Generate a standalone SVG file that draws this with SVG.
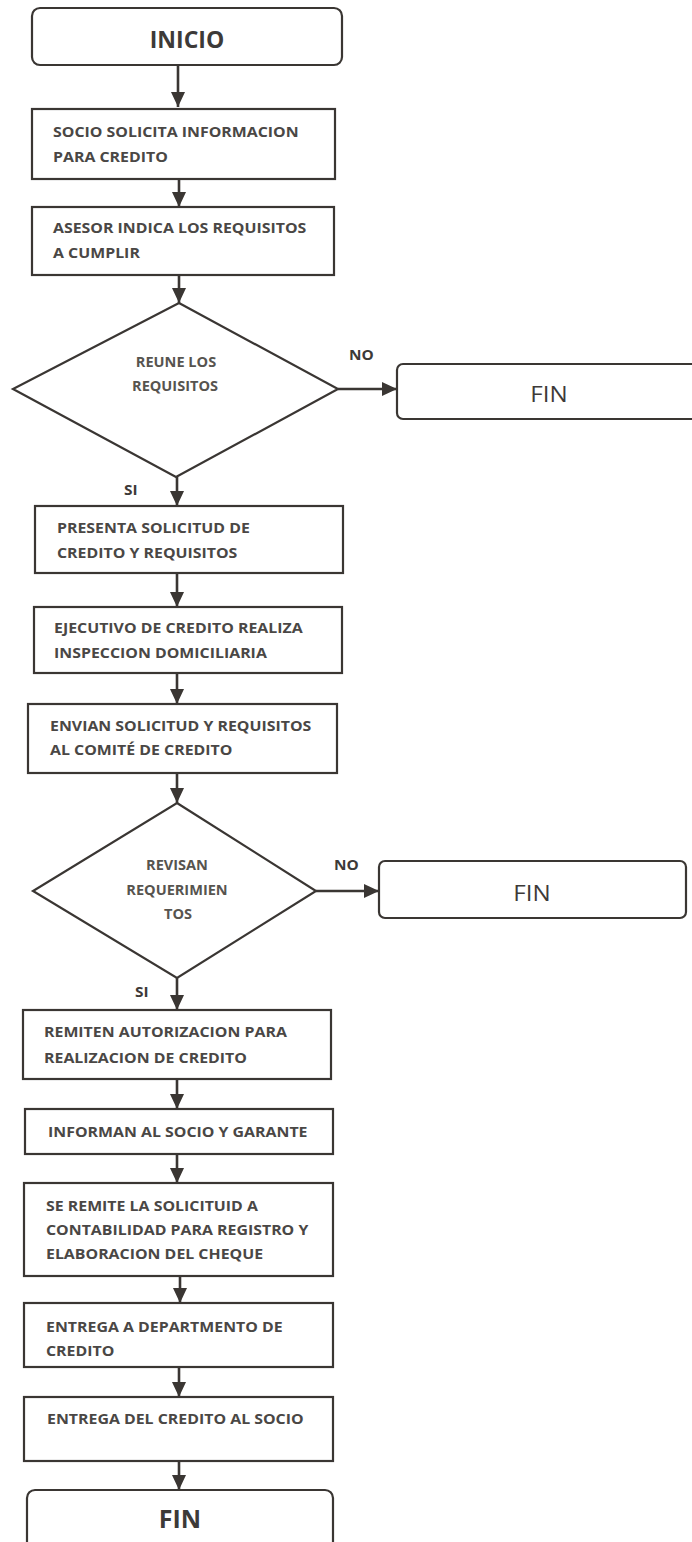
<svg xmlns="http://www.w3.org/2000/svg" width="692" height="1542" viewBox="0 0 692 1542">
  <defs>
    <marker id="arrow" markerUnits="userSpaceOnUse" markerWidth="16" markerHeight="14" viewBox="0 0 16 14" refX="15" refY="7" orient="auto">
      <path d="M0,0 L15,7 L0,14 Z" fill="#3a3633"/>
    </marker>
    <style>
      .box { fill: #ffffff; stroke: #3a3633; stroke-width: 2.2; }
      .dia { fill: #ffffff; stroke: #3a3633; stroke-width: 2.2; stroke-linejoin: miter; }
      .flow { stroke: #3a3633; stroke-width: 2.6; fill: none; marker-end: url(#arrow); }
      .t { font-family: "Open Sans", "Liberation Sans", sans-serif; font-weight: 700; font-size: 15px; fill: #4a4745; }
      .tc { font-family: "Open Sans", "Liberation Sans", sans-serif; font-weight: 700; font-size: 14px; fill: #57544f; text-anchor: middle; }
      .lbl { font-family: "Open Sans", "Liberation Sans", sans-serif; font-weight: 700; font-size: 14px; fill: #3d3a38; }
      .big { font-family: "Open Sans", "Liberation Sans", sans-serif; font-weight: 700; font-size: 23px; fill: #3d3a38; text-anchor: middle; }
      .end { font-family: "Open Sans", "Liberation Sans", sans-serif; font-weight: 400; font-size: 21px; fill: #3d3a38; text-anchor: middle; }
    </style>
  </defs>

  <rect width="692" height="1542" fill="#ffffff"/>

  <!-- connectors -->
  <g id="connectors">
    <line class="flow" x1="178" y1="65" x2="178" y2="107"/>
    <line class="flow" x1="179" y1="180" x2="179" y2="207"/>
    <line class="flow" x1="179" y1="275" x2="179" y2="303"/>
    <line class="flow" x1="338" y1="389" x2="397" y2="389"/>
    <line class="flow" x1="177" y1="477" x2="177" y2="506"/>
    <line class="flow" x1="177" y1="573" x2="177" y2="607"/>
    <line class="flow" x1="177" y1="673" x2="177" y2="704"/>
    <line class="flow" x1="177" y1="773" x2="177" y2="803"/>
    <line class="flow" x1="316" y1="891" x2="379" y2="891"/>
    <line class="flow" x1="177" y1="978" x2="177" y2="1010"/>
    <line class="flow" x1="177" y1="1079" x2="177" y2="1109"/>
    <line class="flow" x1="177" y1="1154" x2="177" y2="1183"/>
    <line class="flow" x1="180" y1="1276" x2="180" y2="1303"/>
    <line class="flow" x1="179" y1="1367" x2="179" y2="1397"/>
    <line class="flow" x1="179" y1="1461" x2="179" y2="1490"/>
    <text class="lbl" transform="translate(349 360) scale(1.1 1)">NO</text>
    <text class="lbl" transform="translate(124 495) scale(1.1 1)">SI</text>
    <text class="lbl" transform="translate(334 870) scale(1.1 1)">NO</text>
    <text class="lbl" transform="translate(135 997) scale(1.1 1)">SI</text>
  </g>

  <g id="inicio">
    <rect class="box" x="32" y="8" width="310" height="57" rx="8"/>
    <text class="big" x="187" y="48">INICIO</text>
  </g>

  <g id="solicita-informacion">
    <rect class="box" x="32" y="109" width="303" height="70"/>
    <text class="t" transform="translate(53 137) scale(1.06 1)">SOCIO SOLICITA INFORMACION</text>
    <text class="t" transform="translate(53 162) scale(1.06 1)">PARA CREDITO</text>
  </g>

  <g id="indica-requisitos">
    <rect class="box" x="32" y="207" width="302" height="68"/>
    <text class="t" transform="translate(53 233) scale(1.06 1)">ASESOR INDICA LOS REQUISITOS</text>
    <text class="t" transform="translate(53 258) scale(1.06 1)">A CUMPLIR</text>
  </g>

  <g id="reune-requisitos">
    <polygon class="dia" points="179,303 338,389 176,477 13,389"/>
    <text class="tc" transform="translate(176 367) scale(1.04 1)">REUNE LOS</text>
    <text class="tc" transform="translate(175 391) scale(1.04 1)">REQUISITOS</text>
  </g>

  <g id="fin-1">
    <rect class="box" x="397" y="364" width="310" height="55" rx="6"/>
    <text class="end" transform="translate(549 402) scale(1.15 1)">FIN</text>
  </g>

  <g id="presenta-solicitud">
    <rect class="box" x="35" y="506" width="308" height="67"/>
    <text class="t" transform="translate(57 533) scale(1.06 1)">PRESENTA SOLICITUD DE</text>
    <text class="t" transform="translate(57 558) scale(1.06 1)">CREDITO Y REQUISITOS</text>
  </g>

  <g id="inspeccion-domiciliaria">
    <rect class="box" x="34" y="607" width="308" height="66"/>
    <text class="t" transform="translate(54 633) scale(1.06 1)">EJECUTIVO DE CREDITO REALIZA</text>
    <text class="t" transform="translate(54 658) scale(1.06 1)">INSPECCION DOMICILIARIA</text>
  </g>

  <g id="envian-comite">
    <rect class="box" x="28" y="704" width="309" height="69"/>
    <text class="t" transform="translate(50 731) scale(1.06 1)">ENVIAN SOLICITUD Y REQUISITOS</text>
    <text class="t" transform="translate(50 755) scale(1.06 1)">AL COMITÉ DE CREDITO</text>
  </g>

  <g id="revisan-requerimientos">
    <polygon class="dia" points="177,803 316,891 177,978 33,891"/>
    <text class="tc" transform="translate(177 870) scale(1.04 1)">REVISAN</text>
    <text class="tc" transform="translate(177 895) scale(1.04 1)">REQUERIMIEN</text>
    <text class="tc" transform="translate(178 919) scale(1.04 1)">TOS</text>
  </g>

  <g id="fin-2">
    <rect class="box" x="379" y="861" width="307" height="57" rx="6"/>
    <text class="end" transform="translate(532 901) scale(1.15 1)">FIN</text>
  </g>

  <g id="remiten-autorizacion">
    <rect class="box" x="23" y="1010" width="308" height="69"/>
    <text class="t" transform="translate(44 1037) scale(1.06 1)">REMITEN AUTORIZACION PARA</text>
    <text class="t" transform="translate(44 1063) scale(1.06 1)">REALIZACION DE CREDITO</text>
  </g>

  <g id="informan-socio">
    <rect class="box" x="25" y="1109" width="308" height="45"/>
    <text class="t" transform="translate(48 1137) scale(1.06 1)">INFORMAN AL SOCIO Y GARANTE</text>
  </g>

  <g id="remite-contabilidad">
    <rect class="box" x="24" y="1183" width="309" height="93"/>
    <text class="t" transform="translate(46 1211) scale(1.06 1)">SE REMITE LA SOLICITUID A</text>
    <text class="t" transform="translate(46 1235) scale(1.06 1)">CONTABILIDAD PARA REGISTRO Y</text>
    <text class="t" transform="translate(46 1259) scale(1.06 1)">ELABORACION DEL CHEQUE</text>
  </g>

  <g id="entrega-departamento">
    <rect class="box" x="24" y="1303" width="309" height="64"/>
    <text class="t" transform="translate(46 1332) scale(1.06 1)">ENTREGA A DEPARTMENTO DE</text>
    <text class="t" transform="translate(46 1356) scale(1.06 1)">CREDITO</text>
  </g>

  <g id="entrega-credito">
    <rect class="box" x="24" y="1397" width="309" height="64"/>
    <text class="t" transform="translate(47 1424) scale(1.06 1)">ENTREGA DEL CREDITO AL SOCIO</text>
  </g>

  <g id="fin-3">
    <rect class="box" x="27" y="1490" width="306" height="70" rx="8"/>
    <text class="big" x="180" y="1528" style="font-size:25px">FIN</text>
  </g>
</svg>
